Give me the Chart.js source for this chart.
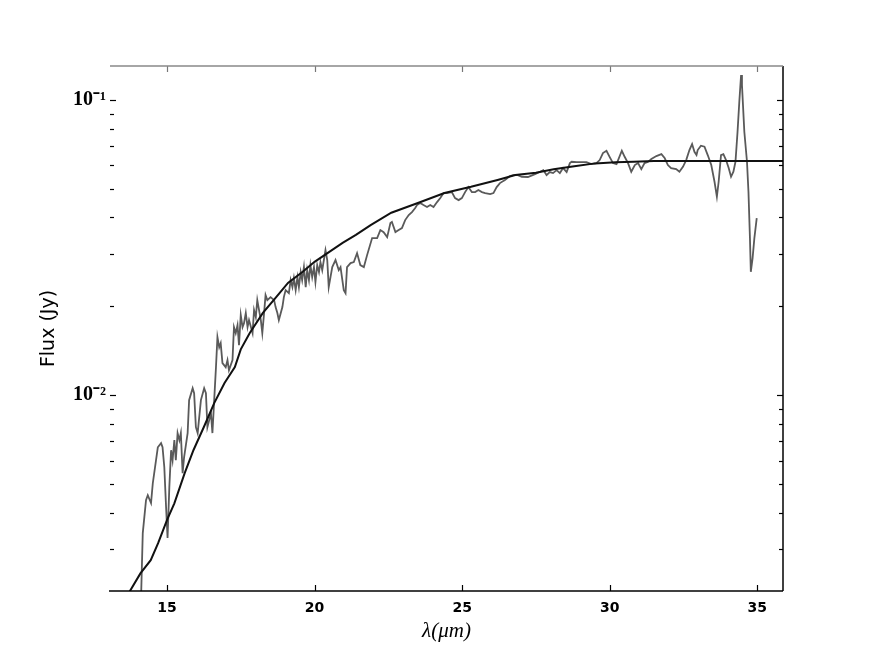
<!DOCTYPE html>
<html><head><meta charset="utf-8">
<script src="https://cdn.jsdelivr.net/npm/chart.js@4.4.1/dist/chart.umd.min.js"></script>
<style>html,body{margin:0;padding:0;background:#fff;}#wrap{width:872px;height:658px;}</style>
</head><body><div id="wrap"><canvas id="c" width="872" height="658"></canvas></div>
<script>
// Model (smooth fit) curve
const modelWavelength = [13.6, 14.1, 14.45, 14.7, 15.0, 15.25, 15.6, 15.9, 16.25, 16.6, 16.95, 17.3, 17.5, 17.8, 18.25, 18.7, 19.1, 19.6, 20.0, 20.5, 20.95, 21.4, 21.9, 22.6, 23.5, 24.4, 25.3, 26.2, 26.8, 27.5, 28.1, 28.8, 29.5, 30.2, 30.8, 31.5, 32.4, 33.7, 35.9];
const modelFlux = [0.00205, 0.00249, 0.00276, 0.00315, 0.00377, 0.0043, 0.00544, 0.00652, 0.0078, 0.0094, 0.011, 0.01245, 0.0143, 0.0162, 0.019, 0.0215, 0.024, 0.0262, 0.0283, 0.0306, 0.0328, 0.0349, 0.0377, 0.0415, 0.0448, 0.0484, 0.0508, 0.0536, 0.0557, 0.0567, 0.0583, 0.0597, 0.061, 0.0615, 0.0618, 0.0621, 0.0621, 0.0621, 0.0621];

// Observed spectrum
const specWavelength = [
14.12,14.18,14.29,14.35,14.46,14.52,14.69,14.80,14.85,14.91,
14.97,15.02,15.08,15.14,15.19,15.25,15.30,15.36,15.42,15.47,
15.53,15.58,15.70,15.75,15.87,15.92,15.98,16.04,16.15,16.26,
16.32,16.37,16.49,16.54,16.60,16.66,16.71,16.77,16.82,16.88,
16.99,17.05,17.10,17.22,17.27,17.33,17.39,17.44,17.50,17.56,
17.61,17.67,17.73,17.78,17.90,17.95,18.01,18.06,18.12,18.18,
18.23,18.29,18.34,18.40,18.51,18.63,18.68,18.74,18.79,18.91,
18.96,19.02,19.13,19.19,19.25,19.30,19.36,19.42,19.47,19.53,
19.58,19.64,19.70,19.75,19.81,19.86,19.92,19.98,20.03,20.09,
20.15,20.20,20.26,20.37,20.43,20.48,20.54,20.60,20.71,20.82,
20.88,20.99,21.05,21.10,21.22,21.33,21.44,21.55,21.67,21.78,
21.95,22.12,22.23,22.34,22.46,22.57,22.62,22.74,22.85,22.96,
23.07,23.19,23.30,23.41,23.47,23.58,23.69,23.81,23.92,24.03,
24.15,24.26,24.37,24.48,24.65,24.76,24.88,24.99,25.10,25.21,
25.33,25.44,25.55,25.67,25.78,25.95,26.06,26.17,26.28,26.45,
26.62,26.73,26.89,27.02,27.23,27.47,27.64,27.75,27.86,27.97,
28.08,28.20,28.31,28.42,28.54,28.65,28.71,28.88,29.04,29.21,
29.38,29.55,29.66,29.77,29.89,30.00,30.11,30.23,30.41,30.51,
30.62,30.73,30.85,30.96,31.07,31.18,31.29,31.41,31.58,31.75,
31.86,31.97,32.08,32.25,32.36,32.48,32.59,32.70,32.79,32.87,
32.94,32.98,33.09,33.21,33.32,33.44,33.55,33.63,33.69,33.77,
33.85,33.94,34.03,34.11,34.19,34.26,34.33,34.39,34.45,34.48,
34.56,34.65,34.70,34.75,34.78,34.84,34.90,34.98];
const specFlux = [
0.00202,0.00341,0.00441,0.00458,0.00431,0.00503,0.00666,0.00688,0.00666,0.0057,
0.00417,0.00328,0.00488,0.00651,0.00602,0.00704,0.00602,0.00744,0.00704,0.00744,
0.00544,0.00616,0.00744,0.00962,0.01056,0.01016,0.00779,0.00744,0.00962,0.01056,
0.01016,0.00779,0.00869,0.00744,0.00962,0.01244,0.01573,0.01454,0.01501,0.01284,
0.01244,0.01314,0.01215,0.01314,0.0170,0.01623,0.01727,0.01477,0.01867,0.0170,
0.01754,0.01897,0.0170,0.01796,0.01623,0.01942,0.01838,0.02099,0.01942,0.01796,
0.01623,0.01897,0.02183,0.02099,0.02149,0.02099,0.01988,0.01897,0.01796,0.01988,
0.02149,0.0227,0.02217,0.02454,0.02323,0.02493,0.0227,0.02512,0.02323,0.02612,
0.02454,0.02716,0.02323,0.02653,0.02454,0.02759,0.02512,0.02716,0.02415,0.02759,
0.02612,0.02824,0.02653,0.03101,0.02869,0.02323,0.02512,0.02716,0.02869,0.02653,
0.02716,0.0227,0.02217,0.02716,0.02802,0.02824,0.03029,0.02759,0.02716,0.02982,
0.03406,0.03406,0.03625,0.03568,0.03432,0.03829,0.0386,0.03568,0.03625,0.03682,
0.03919,0.04075,0.04172,0.04304,0.04406,0.04475,0.04406,0.04338,0.04406,0.04338,
0.04511,0.04654,0.04839,0.04839,0.04876,0.04654,0.04581,0.04654,0.04876,0.05071,
0.04876,0.04876,0.04954,0.04876,0.04839,0.04801,0.04839,0.05071,0.05231,0.05355,
0.05526,0.05569,0.05569,0.05495,0.05486,0.05612,0.05715,0.05789,0.05569,0.0570,
0.05656,0.05789,0.05656,0.05881,0.0570,0.06114,0.06177,0.06163,0.06163,0.06163,
0.06067,0.06114,0.0626,0.06611,0.06731,0.06409,0.06114,0.06067,0.06731,0.06409,
0.06114,0.05715,0.0602,0.06114,0.05835,0.06114,0.06163,0.0631,0.06459,0.0656,
0.0636,0.0602,0.05881,0.05835,0.05715,0.0594,0.0626,0.06769,0.07093,0.06679,
0.06509,0.06769,0.0700,0.06946,0.06509,0.0602,0.05285,0.04701,0.05285,0.06509,
0.0656,0.0626,0.05881,0.05495,0.05715,0.06177,0.07807,0.09868,0.1215,0.1124,
0.07807,0.06177,0.04888,0.03406,0.02618,0.02913,0.03406,0.03981];

// Ticks
const xTicks = [15, 20, 25, 30, 35];
const yMajorTicks = [0.01, 0.1];
const yMajorLabels = ['10\u207B\u00B2', '10\u207B\u00B9'];
const yMinorTicks = [0.003, 0.004, 0.005, 0.006, 0.007, 0.008, 0.009, 0.02, 0.03, 0.04, 0.05, 0.06, 0.07, 0.08, 0.09];

const xRange = [13.07, 35.87];
const yRange = [0.00217, 0.1304];

const modelPts = modelWavelength.map((w, i) => ({x: w, y: modelFlux[i]}));
const specPts = specWavelength.map((w, i) => ({x: w, y: specFlux[i]}));

function sameVal(a, b) { return Math.abs(a - b) / b < 1e-6; }

const framePlugin = {
  id: 'frame',
  afterDatasetsDraw(chart) {
    const {ctx, chartArea: a, scales: {x, y}} = chart;
    ctx.save();
    const seg = (x1, y1, x2, y2) => { ctx.beginPath(); ctx.moveTo(x1, y1); ctx.lineTo(x2, y2); ctx.stroke(); };
    ctx.lineWidth = 1.2;
    ctx.strokeStyle = '#000';
    xTicks.forEach(v => {
      const px = Math.round(x.getPixelForValue(v)) + 0.5;
      seg(px, a.bottom, px, a.bottom - 6);
      ctx.strokeStyle = '#777';
      seg(px, a.top, px, a.top + 6);
      ctx.strokeStyle = '#000';
    });
    yMajorTicks.forEach(v => {
      const py = Math.round(y.getPixelForValue(v)) + 0.5;
      seg(a.left, py, a.left + 6, py);
      seg(a.right, py, a.right - 6, py);
    });
    yMinorTicks.forEach(v => {
      const py = Math.round(y.getPixelForValue(v)) + 0.5;
      seg(a.left, py, a.left + 4, py);
      seg(a.right, py, a.right - 4, py);
    });
    ctx.lineWidth = 1.5;
    ctx.strokeStyle = '#000';
    seg(a.left - 1, a.bottom, a.right, a.bottom);
    seg(a.right, a.top, a.right, a.bottom);
    ctx.strokeStyle = '#888';
    seg(a.left, a.top, a.right, a.top);
    ctx.restore();
  }
};

new Chart(document.getElementById('c'), {
  type: 'line',
  data: {
    datasets: [
      {label: 'model', data: modelPts, borderColor: '#111', borderWidth: 2, pointRadius: 0, tension: 0, fill: false, clip: 0},
      {label: 'spectrum', data: specPts, borderColor: '#5a5a5a', borderWidth: 1.8, pointRadius: 0, tension: 0, fill: false, clip: 0}
    ]
  },
  options: {
    responsive: false,
    animation: false,
    devicePixelRatio: 1,
    layout: {padding: {left: 0, right: 89, top: 66, bottom: 0}},
    plugins: {legend: {display: false}, tooltip: {enabled: false}},
    scales: {
      x: {
        type: 'linear', position: 'bottom', min: xRange[0], max: xRange[1],
        grid: {display: false, drawTicks: false},
        border: {display: false},
        afterBuildTicks: s => { s.ticks = xTicks.map(v => ({value: v})); },
        afterFit: s => { s.height = 67; },
        ticks: {padding: 9, color: '#000', autoSkip: false, maxRotation: 0,
          font: {family: 'DejaVu Sans', size: 14, weight: 'bold'},
          callback: v => String(v)},
        title: {display: true, text: '\u03BB(\u03BCm)', color: '#000',
          font: {family: 'Liberation Serif', size: 21, style: 'italic'},
          padding: {top: 0, bottom: 14}}
      },
      y: {
        type: 'logarithmic', position: 'left', min: yRange[0], max: yRange[1],
        grid: {display: false, drawTicks: false},
        border: {display: false},
        afterBuildTicks: s => { s.ticks = yMinorTicks.concat(yMajorTicks).sort((a, b) => a - b).map(v => ({value: v})); },
        afterFit: s => { s.width = 110; },
        ticks: {padding: 4, color: '#000', autoSkip: false,
          font: {family: 'Liberation Serif', size: 20, weight: 'bold'},
          callback: v => { const i = yMajorTicks.findIndex(m => sameVal(v, m)); return i >= 0 ? yMajorLabels[i] : ''; }},
        title: {display: true, text: 'Flux (Jy)', color: '#000',
          font: {family: 'DejaVu Sans', size: 19},
          padding: {top: 38, bottom: 0}}
      }
    }
  },
  plugins: [framePlugin]
});
</script>
</body></html>
